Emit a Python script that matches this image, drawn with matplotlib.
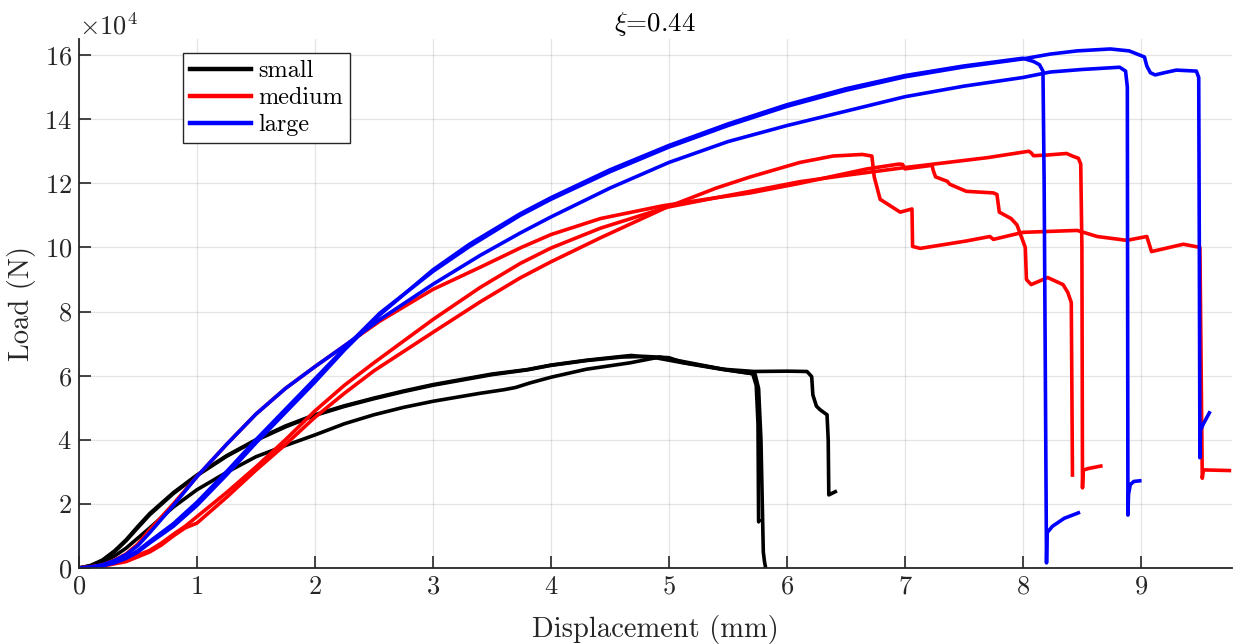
import numpy as np
import matplotlib
matplotlib.use("Agg")
import matplotlib.pyplot as plt

plt.rcParams['font.family'] = 'serif'
plt.rcParams['font.serif'] = ['cmr10']
plt.rcParams['mathtext.fontset'] = 'cm'
plt.rcParams['axes.formatter.use_mathtext'] = True

# Load-displacement curves, displacement in mm, load in kN
# small specimens
small_1_x = [0, 0.1, 0.2, 0.3, 0.4, 0.5, 0.6, 0.8, 1.0, 1.25, 1.5, 1.75, 2.0, 2.25, 2.5, 2.75, 3.0, 3.5, 3.8,
             4.0, 4.3, 4.5, 4.68, 4.9, 5.12, 5.46, 5.71, 5.74, 5.755, 5.76, 5.765]
small_1_y = [0, 0.8, 2.5, 5.3, 8.8, 13.0, 17.0, 23.5, 29.0, 35.0, 40.0, 44.3, 47.8, 50.6, 53.0, 55.2, 57.2, 60.5,
             61.9, 63.3, 64.8, 65.6, 66.3, 65.5, 64.0, 61.9, 60.6, 57.0, 45.0, 14.4, 14.8]
small_2_x = [0, 0.1, 0.2, 0.3, 0.4, 0.5, 0.6, 0.8, 1.0, 1.25, 1.5, 1.75, 2.0, 2.25, 2.5, 2.75, 3.0, 3.5, 3.8,
             4.0, 4.3, 4.6, 4.8, 5.0, 5.12, 5.46, 5.72, 6.0, 6.17, 6.21, 6.22, 6.25, 6.28, 6.34, 6.35, 6.355, 6.41]
small_2_y = [0, 0.7, 2.3, 5.0, 8.5, 12.6, 16.6, 23.2, 28.8, 34.8, 39.8, 44.0, 47.6, 50.4, 52.8, 55.0, 57.0, 60.3,
             61.8, 63.2, 64.7, 65.8, 66.0, 65.6, 64.1, 62.0, 61.3, 61.4, 61.3, 59.7, 54.0, 50.5, 49.4, 47.8, 40.0,
             22.8, 23.8]
small_3_x = [0, 0.1, 0.2, 0.3, 0.4, 0.6, 0.8, 1.0, 1.25, 1.5, 1.75, 2.0, 2.25, 2.5, 2.75, 3.0, 3.4, 3.6, 3.7,
             3.82, 4.0, 4.3, 4.67, 4.92, 5.12, 5.46, 5.73, 5.76, 5.78, 5.80, 5.81, 5.82]
small_3_y = [0, 0.5, 1.8, 3.7, 6.2, 12.5, 19.0, 24.4, 29.8, 34.7, 38.2, 41.5, 45.0, 47.8, 50.1, 52.0, 54.5, 55.6,
             56.3, 57.7, 59.5, 62.0, 64.0, 65.8, 64.4, 62.0, 60.5, 56.0, 40.0, 5.0, 2.0, 0]

# medium specimens
medium_1_x = [0, 0.2, 0.4, 0.5, 0.6, 0.7, 0.8, 0.9, 1.0, 1.25, 1.5, 1.75, 2.0, 2.25, 2.5, 3.0, 3.4, 3.74, 4.0,
              4.42, 4.98, 5.4, 5.69, 6.11, 6.39, 6.64, 6.72, 6.74, 6.79, 6.96, 7.06, 7.065, 7.13, 7.52, 7.72, 7.75,
              8.0, 8.46, 8.63, 8.88, 9.05, 9.09, 9.36, 9.5, 9.52, 9.53, 9.75]
medium_1_y = [0, 0.6, 2.0, 3.5, 5.0, 7.2, 10.0, 12.5, 14.0, 22.0, 30.5, 38.5, 47.0, 54.5, 61.5, 73.5, 83.0, 90.5,
              95.5, 103.0, 112.5, 118.5, 122.0, 126.5, 128.5, 129.0, 128.5, 122.0, 115.0, 111.0, 112.0, 100.3, 99.7,
              102.0, 103.4, 102.5, 104.7, 105.3, 103.4, 102.2, 103.4, 98.7, 101.0, 100.0, 28.0, 30.6, 30.4]
medium_2_x = [0, 0.1, 0.2, 0.3, 0.4, 0.5, 0.6, 0.8, 1.0, 1.25, 1.5, 1.75, 2.0, 2.25, 2.55, 3.0, 3.4, 3.75, 4.0,
              4.42, 4.95, 5.4, 5.69, 6.11, 6.68, 6.95, 6.98, 7.0, 7.23, 7.24, 7.26, 7.36, 7.38, 7.52, 7.75, 7.78,
              7.8, 7.9, 7.95, 7.97, 8.02, 8.03, 8.07, 8.21, 8.34, 8.38, 8.41, 8.42]
medium_2_y = [0, 0.3, 1.0, 2.4, 4.4, 7.5, 11.9, 20.0, 28.5, 38.5, 48.0, 56.0, 62.8, 69.3, 77.0, 86.9, 93.8, 100.0,
              104.0, 109.0, 113.0, 115.5, 117.0, 120.0, 124.5, 126.0, 125.9, 124.5, 125.6, 124.0, 122.0, 120.6,
              119.7, 117.5, 117.0, 116.5, 111.0, 109.0, 107.0, 105.0, 100.0, 90.0, 88.4, 90.6, 88.4, 86.0, 82.8,
              29.0]
medium_3_x = [0, 0.2, 0.4, 0.5, 0.6, 0.7, 0.8, 0.9, 1.0, 1.25, 1.5, 1.75, 2.0, 2.25, 2.5, 3.0, 3.4, 3.74, 4.0,
              4.42, 4.98, 5.4, 5.69, 6.11, 6.5, 7.02, 7.36, 7.7, 8.05, 8.07, 8.09, 8.2, 8.37, 8.42, 8.47, 8.49,
              8.5, 8.505, 8.51, 8.55, 8.66]
medium_3_y = [0, 0.8, 2.5, 4.0, 5.5, 7.8, 10.5, 13.0, 16.0, 23.5, 31.5, 40.0, 49.0, 57.0, 64.0, 77.5, 87.5, 95.0,
              99.8, 106.0, 112.5, 115.5, 117.5, 120.5, 122.5, 125.0, 126.5, 128.0, 130.0, 129.5, 128.6, 128.8,
              129.3, 128.5, 127.8, 126.0, 100.0, 25.0, 30.5, 31.0, 31.8]

# large specimens
large_1_x = [0, 0.1, 0.2, 0.3, 0.4, 0.5, 0.6, 0.8, 1.0, 1.25, 1.5, 1.75, 2.0, 2.25, 2.55, 3.0, 3.31, 3.74, 4.0,
             4.5, 5.0, 5.5, 6.0, 6.5, 7.0, 7.5, 8.0, 8.09, 8.14, 8.17, 8.18, 8.2, 8.205, 8.25, 8.35, 8.47]
large_1_y = [0, 0.2, 0.7, 1.6, 3.0, 5.0, 7.8, 13.0, 19.5, 29.0, 39.0, 48.5, 58.0, 68.0, 79.0, 93.0, 101.0, 110.5,
             115.5, 124.2, 131.8, 138.5, 144.5, 149.5, 153.6, 156.6, 159.0, 158.0, 157.0, 155.0, 120.0, 1.6, 11.0,
             13.0, 15.5, 17.2]
large_2_x = [0, 0.1, 0.2, 0.3, 0.4, 0.5, 0.6, 0.8, 1.0, 1.25, 1.5, 1.75, 2.0, 2.25, 2.55, 3.0, 3.4, 3.74, 4.0,
             4.5, 5.0, 5.5, 6.0, 6.5, 7.0, 7.5, 8.0, 8.23, 8.5, 8.82, 8.87, 8.885, 8.89, 8.895, 8.91, 8.94, 8.99]
large_2_y = [0, 0.3, 1.0, 2.3, 4.2, 7.0, 11.0, 19.5, 28.5, 38.5, 48.0, 56.0, 62.8, 69.3, 77.5, 88.5, 97.5, 104.5,
             109.5, 118.5, 126.5, 133.0, 138.0, 142.5, 147.0, 150.3, 153.0, 154.7, 155.5, 156.2, 155.0, 150.0,
             16.5, 23.0, 26.0, 27.0, 27.2]
large_3_x = [0, 0.1, 0.2, 0.3, 0.4, 0.5, 0.6, 0.8, 1.0, 1.25, 1.5, 1.75, 2.0, 2.25, 2.55, 3.0, 3.31, 3.74, 4.0,
             4.5, 5.0, 5.5, 6.0, 6.5, 7.0, 7.5, 8.0, 8.23, 8.46, 8.74, 8.9, 9.03, 9.05, 9.08, 9.12, 9.2, 9.3, 9.47,
             9.49, 9.495, 9.5, 9.505, 9.53, 9.58]
large_3_y = [0, 0.2, 0.8, 1.8, 3.3, 5.4, 8.3, 13.8, 20.5, 30.0, 40.0, 49.5, 59.0, 68.5, 79.5, 92.5, 100.3, 110.0,
             115.0, 123.6, 131.3, 138.0, 144.0, 149.0, 153.2, 156.3, 158.8, 160.3, 161.3, 161.9, 161.3, 159.4,
             156.6, 154.5, 153.8, 154.5, 155.3, 155.0, 153.0, 100.0, 34.4, 43.0, 45.0, 48.4]

groups = [
    ('small', 'k', [(small_1_x, small_1_y), (small_2_x, small_2_y), (small_3_x, small_3_y)]),
    ('medium', 'r', [(medium_1_x, medium_1_y), (medium_2_x, medium_2_y), (medium_3_x, medium_3_y)]),
    ('large', 'b', [(large_1_x, large_1_y), (large_2_x, large_2_y), (large_3_x, large_3_y)]),
]

fig = plt.figure(figsize=(12.33, 6.44), dpi=100)
ax = fig.add_axes([0.064, 0.118, 0.935, 0.8214])

for name, color, curves in groups:
    for i, (x, y) in enumerate(curves):
        ax.plot(x, np.array(y) * 1000, color=color, lw=2.6,
                label=name if i == 0 else None, solid_joinstyle='round')

ax.set_xlim(0, 9.77)
ax.set_ylim(0, 16.5e4)
ax.set_xticks(np.arange(0, 10, 1))
ax.set_yticks(np.arange(0, 16.5e4, 2e4))
ax.ticklabel_format(axis='y', style='sci', scilimits=(4, 4))

axis_color = '#262626'
for side in ['top', 'right']:
    ax.spines[side].set_visible(False)
for side in ['left', 'bottom']:
    ax.spines[side].set_color(axis_color)
    ax.spines[side].set_linewidth(1.3)
ax.tick_params(direction='in', length=8.5, width=1.2, colors=axis_color, labelsize=19, pad=5)
ax.yaxis.get_offset_text().set_fontsize(19)
ax.yaxis.get_offset_text().set_color(axis_color)
ax.grid(True, color=axis_color, alpha=0.12, lw=0.9)
ax.set_axisbelow(True)

ax.set_xlabel('Displacement (mm)', fontsize=20.5, color=axis_color, labelpad=12)
ax.set_ylabel('Load (N)', fontsize=20.5, color=axis_color, labelpad=6)
ax.set_title(r'$\xi$=0.44', fontsize=19.5, color='black', pad=6)

leg = ax.legend(loc='upper left', bbox_to_anchor=(0.09, 0.974), borderaxespad=0, fontsize=17.5,
                handlelength=2.5, handletextpad=0.3, labelspacing=0.2, fancybox=False,
                framealpha=1, borderpad=0.3)
leg.get_frame().set_edgecolor(axis_color)
leg.get_frame().set_linewidth(1.0)
for line in leg.get_lines():
    line.set_linewidth(3.2)

plt.savefig('out.png', dpi=100)
